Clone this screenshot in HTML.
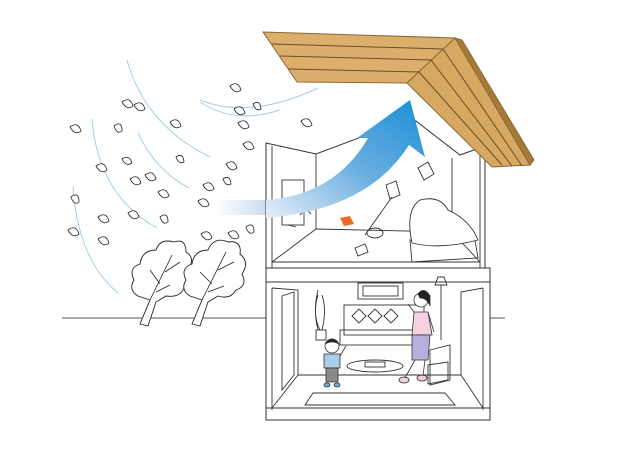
<!DOCTYPE html>
<html><head><meta charset="utf-8"><style>html,body{margin:0;padding:0;background:#fff}svg{display:block}</style></head>
<body>
<svg width="637" height="450" viewBox="0 0 637 450" xmlns="http://www.w3.org/2000/svg">
<defs>
<linearGradient id="band" x1="0" x2="1"><stop offset="0" stop-color="#fff"/><stop offset="1" stop-color="#c9dcf0"/></linearGradient>
<linearGradient id="arr" x1="0" y1="1" x2="1" y2="0"><stop offset="0" stop-color="#e6eef8"/><stop offset="0.5" stop-color="#6aaee0"/><stop offset="1" stop-color="#1a8fd8"/></linearGradient>
</defs>
<g fill="none" stroke="#a9cfe4" stroke-width="1">
<path d="M127,60 Q145,125 210,157"/>
<path d="M92,119 Q98,195 157,228"/>
<path d="M138,133 Q155,170 189,188"/>
<path d="M73,187 Q78,260 118,293"/>
<path d="M200,102 Q235,125 280,110"/>
<path d="M200,100 Q250,120 318,88"/>
</g>
<line x1="62" y1="318" x2="266" y2="318" stroke="#555"/>
<line x1="490" y1="318" x2="505" y2="318" stroke="#555"/>
<g fill="#fff" stroke="#222" stroke-width="0.9">
<path d="M140,324 L150,300 L138,296 Q128,290 134,280 Q128,268 140,264 Q142,250 156,250 Q160,238 174,242 Q186,238 186,252 Q196,258 188,270 Q194,282 184,288 Q180,298 166,296 L156,302 L148,326 Z"/>
<path d="M192,324 L202,300 L190,296 Q180,290 186,280 Q180,268 192,264 Q194,250 208,250 Q214,236 228,242 Q242,240 240,254 Q250,262 242,274 Q248,286 236,290 Q230,300 218,296 L208,302 L200,326 Z"/>
</g>
<g fill="none" stroke="#222" stroke-width="0.8">
<path d="M150,300 L172,255 M160,284 L150,270 M165,272 L180,262 M156,292 L170,285"/>
<path d="M202,300 L226,252 M212,284 L200,272 M218,270 L234,262 M208,292 L224,286"/>
</g>
<g fill="#fff" stroke="#222" stroke-width="0.8">
<path d="M70,127 q8,-6 11,4 q-6,5 -11,-4z"/><path d="M122,102 q8,-6 11,4 q-6,5 -11,-4z"/><path d="M114,126 q8,-6 8,5 q-5,4 -8,-5z"/>
<path d="M96,166 q8,-6 11,4 q-6,5 -11,-4z"/><path d="M122,159 q7,-5 10,4 q-6,4 -10,-4z"/><path d="M130,179 q8,-6 11,4 q-6,5 -11,-4z"/>
<path d="M134,105 q8,-6 11,4 q-6,5 -11,-4z"/><path d="M170,122 q8,-6 11,4 q-6,5 -11,-4z"/>
<path d="M145,175 q8,-6 11,4 q-6,5 -11,-4z"/><path d="M176,157 q7,-5 8,5 q-5,3 -8,-5z"/><path d="M158,192 q8,-6 11,4 q-6,5 -11,-4z"/>
<path d="M71,197 q8,-6 8,5 q-5,4 -8,-5z"/><path d="M98,217 q8,-6 11,4 q-6,5 -11,-4z"/><path d="M68,230 q8,-6 11,4 q-6,5 -11,-4z"/>
<path d="M98,239 q8,-6 11,4 q-6,5 -11,-4z"/><path d="M128,213 q8,-6 11,4 q-6,5 -11,-4z"/>
<path d="M160,217 q8,-6 8,5 q-5,4 -8,-5z"/><path d="M198,201 q8,-6 11,4 q-6,5 -11,-4z"/><path d="M203,185 q8,-6 11,4 q-6,5 -11,-4z"/>
<path d="M223,179 q7,-5 8,5 q-5,3 -8,-5z"/><path d="M226,164 q8,-6 11,4 q-6,5 -11,-4z"/><path d="M243,144 q8,-6 11,4 q-6,5 -11,-4z"/>
<path d="M230,86 q8,-6 11,4 q-6,5 -11,-4z"/><path d="M234,109 q8,-6 11,4 q-6,5 -11,-4z"/><path d="M253,104 q7,-5 8,5 q-5,3 -8,-5z"/>
<path d="M238,123 q8,-6 11,4 q-6,5 -11,-4z"/><path d="M301,121 q8,-6 11,4 q-6,5 -11,-4z"/><path d="M246,227 q8,-6 8,5 q-5,4 -8,-5z"/>
<path d="M201,234 q8,-6 11,4 q-6,5 -11,-4z"/><path d="M228,233 q8,-6 11,4 q-6,5 -11,-4z"/><path d="M242,204 q7,-5 8,5 q-5,3 -8,-5z"/>
</g>
<rect x="215" y="200" width="52" height="15" fill="url(#band)"/>
<!-- house -->
<g fill="#fff" stroke="#333" stroke-width="1">
<path d="M266,143 L316,154 L412,118 L460,155 L485,146 L485,268 L266,268 Z"/>
<rect x="266" y="268" width="224" height="14"/>
<rect x="266" y="282" width="224" height="138"/>
</g>
<g fill="none" stroke="#333" stroke-width="0.9">
<line x1="272" y1="146" x2="272" y2="268"/><line x1="480" y1="150" x2="480" y2="268"/>
<line x1="316" y1="154" x2="316" y2="229"/><line x1="316" y1="229" x2="272" y2="262"/>
<line x1="316" y1="229" x2="452" y2="232"/><line x1="452" y1="158" x2="452" y2="232"/><line x1="452" y1="232" x2="480" y2="262"/>
<line x1="272" y1="262" x2="480" y2="262"/>
<rect x="282" y="180" width="22" height="45"/>
<line x1="272" y1="288" x2="272" y2="410"/><line x1="483" y1="288" x2="483" y2="410"/>
<line x1="266" y1="408" x2="490" y2="408"/>
<path d="M272,288 L298,290 L298,375 L272,408"/>
<path d="M483,288 L461,292 L461,375 L483,408"/>
<line x1="298" y1="375" x2="461" y2="375"/>
<path d="M282,296 L294,292 L294,375 L282,390 Z"/>
<rect x="358" y="283" width="45" height="16"/><rect x="363" y="286" width="35" height="10"/>
<rect x="344" y="305" width="80" height="30"/><rect x="340" y="330" width="88" height="15"/>
<path d="M352,316 l7,-7 l7,7 l-7,7z M368,316 l7,-7 l7,7 l-7,7z M384,316 l7,-7 l7,7 l-7,7z"/>
<ellipse cx="375" cy="366" rx="28" ry="6"/><rect x="365" y="362" width="20" height="5"/>
<path d="M313,393 L445,393 L455,405 L305,405 Z"/>
<path d="M430,350 l20,-5 l0,35 l-20,5 z"/><path d="M428,365 l20,-3 l0,18 l-20,4 z"/>
<path d="M435,285 l12,0 l-3,-8 l-6,0 z"/><line x1="441" y1="285" x2="441" y2="340"/>
<path d="M318,330 q-5,-20 0,-35 M322,330 q5,-20 0,-35 M320,330 q-8,-15 -2,-40"/><rect x="316" y="330" width="10" height="10"/>
<path d="M410,240 L475,240 L478,258 L412,262 Z"/>
<path d="M412,243 Q405,210 420,200 Q440,195 448,210 Q470,220 478,240 Q440,250 412,243 Z" fill="#fff"/>
<path d="M386,185 l10,-4 l4,14 l-10,4z"/><line x1="392" y1="197" x2="365" y2="235"/>
<ellipse cx="375" cy="233" rx="8" ry="5"/><path d="M355,248 l10,-4 l3,8 l-10,4z"/>
<path d="M418,168 l10,-6 l6,12 l-10,6z"/>
<path d="M300,215 l6,-6 l5,5 M288,225 l8,2"/>
</g>
<path d="M340,218 l10,-2 l4,8 l-10,2z" fill="#ee6a2a"/>
<g stroke="#333" stroke-width="0.8">
<circle cx="421" cy="300" r="7" fill="#fff"/>
<path d="M418,294 q6,-8 12,2 l0,10 q-3,-8 -10,-8z" fill="#222"/>
<path d="M414,312 L428,312 L432,335 L412,335 Z" fill="#f7cfe0"/>
<path d="M412,335 L430,335 L428,360 L412,360 Z" fill="#b9aee0"/>
<path d="M414,312 l-6,-8 M428,312 l6,20" fill="none"/>
<ellipse cx="404" cy="380" rx="5" ry="3" fill="#f7cfe0"/><ellipse cx="422" cy="378" rx="5" ry="3" fill="#f7cfe0"/>
<path d="M415,360 l-10,18 M425,360 l-2,16" fill="none"/>
<circle cx="332" cy="346" r="7" fill="#fff"/>
<path d="M325,344 q7,-10 14,0 q-7,-4 -14,0z" fill="#222"/>
<path d="M324,354 L340,354 L340,368 L324,368 Z" fill="#a9cdeb"/>
<path d="M326,368 L338,368 L338,382 L326,382 Z" fill="#888"/>
<path d="M340,356 l6,-10" fill="none"/>
<ellipse cx="327" cy="385" rx="3" ry="2" fill="#6aaee0"/><ellipse cx="337" cy="385" rx="3" ry="2" fill="#6aaee0"/>
</g>
<path d="M266,200 Q335,195 368,138 L357,138 L410,100 L425,157 L409,145 Q368,210 266,218 Z" fill="url(#arr)"/>
<g stroke="#8a6a33" stroke-width="1">
<path d="M263,32 L455,38 L407,83 L297,82 Z" fill="#dcae6b"/>
<path d="M407,83 L455,38 L530,165 L492,167 Z" fill="#d6a862"/>
<path d="M455,38 L462,40 L534,160 L530,165 Z" fill="#a87a3a"/>
<g fill="none" stroke="#6b4d22">
<path d="M272,44 L443,49 M280,56 L432,60 M288,69 L420,72"/>
<path d="M419,72 L502,165 M431,60 L512,166 M443,49 L522,166"/>
</g>
</g>
</svg>
</body></html>
